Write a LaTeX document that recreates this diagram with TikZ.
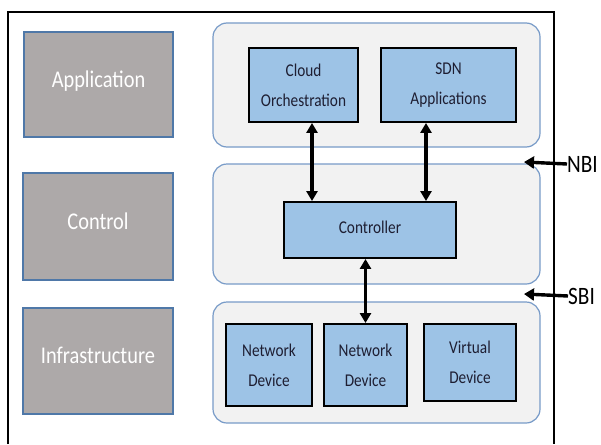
\documentclass[tikz,border=0pt]{standalone}
\usepackage{fontspec}
\setmainfont[FakeStretch=0.85]{Carlito}
\usetikzlibrary{arrows.meta,calc}
\definecolor{grayfill}{RGB}{173,169,169}
\definecolor{grayedge}{RGB}{79,120,168}
\definecolor{panelfill}{RGB}{242,242,242}
\definecolor{paneledge}{RGB}{120,155,200}
\definecolor{bluefill}{RGB}{157,195,230}
\definecolor{bluetext}{RGB}{30,30,50}
\begin{document}
\begin{tikzpicture}[x=1pt,y=-1pt,
  layerbox/.style={draw=grayedge,line width=1.6pt,fill=grayfill,text=white,
    font=\fontsize{24}{28}\selectfont,inner sep=0pt},
  panel/.style={draw=paneledge,line width=1.2pt,fill=panelfill,rounded corners=14pt,inner sep=0pt},
  compbox/.style={draw=black,line width=1.9pt,fill=bluefill,text=bluetext,align=center,
    font=\fontsize{18}{30}\selectfont,inner sep=0pt},
  biarrow/.style={line width=3.3pt,{Triangle[length=10pt,width=11pt]}-{Triangle[length=10pt,width=11pt]}},
  ifarrow/.style={line width=3.4pt,-{Triangle[length=10pt,width=12pt]}},
  iflabel/.style={font=\fontsize{25}{28}\selectfont,text=black,anchor=west,inner sep=0pt}]
\useasboundingbox (0,0) rectangle (601,444);
\fill[white] (0,0) rectangle (601,444);
% outer frame (open at bottom)
\draw[line width=1.6pt] (8,444) -- (8,12) -- (554,12) -- (554,444);
% layer boxes
\node[layerbox,minimum width=149pt,minimum height=105pt] (appG) at (98.5,84.5) {\raisebox{10pt}{Application}};
\node[layerbox,minimum width=150pt,minimum height=107pt] (ctlG) at (98,226.5) {\raisebox{10pt}{Control}};
\node[layerbox,minimum width=150pt,minimum height=106pt] (infG) at (98,361) {\raisebox{12pt}{Infrastructure}};
% panels
\node[panel,minimum width=327pt,minimum height=124pt] (appP) at (376.5,85) {};
\node[panel,minimum width=327pt,minimum height=120pt] (ctlP) at (376.5,224) {};
\node[panel,minimum width=327pt,minimum height=121pt] (infP) at (376.5,362.5) {};
% components
\node[compbox,minimum width=109pt,minimum height=74pt] (cloud) at (303.5,85) {Cloud\\Orchestration};
\node[compbox,minimum width=135pt,minimum height=74pt] (sdn) at (448.5,85) {SDN\\Applications};
\node[compbox,minimum width=172pt,minimum height=56pt] (ctrl) at (370,230) {\raisebox{5pt}{Controller}};
\node[compbox,minimum width=86pt,minimum height=82pt] (nd1) at (269,365) {Network\\Device};
\node[compbox,minimum width=83pt,minimum height=82pt] (nd2) at (365.5,365) {Network\\Device};
\node[compbox,minimum width=92pt,minimum height=77pt] (vd) at (470,362.5) {Virtual\\Device};
% connectors
\draw[biarrow] ([xshift=8.5pt]cloud.south) -- ([xshift=8.5pt]cloud.south |- ctrl.north);
\draw[biarrow] ([xshift=-22.5pt]sdn.south) -- ([xshift=-22.5pt]sdn.south |- ctrl.north);
\draw[biarrow] (nd2.north |- ctrl.south) -- (nd2.north);
% interface labels
\node[iflabel] (nbi) at (567,164) {NBI};
\node[iflabel] (sbi) at (568,296) {SBI};
\coordinate (nbiTip) at (524,162);
\coordinate (sbiTip) at (524,294);
\draw[ifarrow] (nbi.west) -- (nbiTip);
\draw[ifarrow] (sbi.west) -- (sbiTip);
\end{tikzpicture}
\end{document}
